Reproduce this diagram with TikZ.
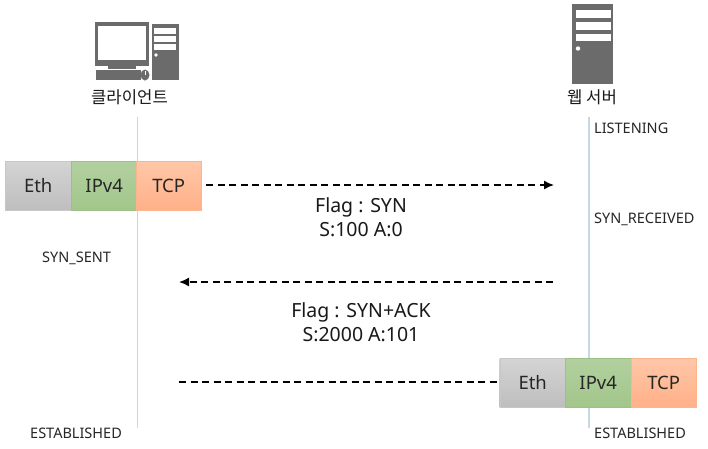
\documentclass[tikz,border=0pt]{standalone}
\usepackage{fontspec}
\setmainfont{Noto Sans}
\newfontfamily\krfont{Noto Sans CJK KR}
\usetikzlibrary{arrows.meta}
\definecolor{icongray}{HTML}{6B6B6B}
\definecolor{lifeline}{HTML}{C5D9E4}
\definecolor{ethtop}{HTML}{D4D4D4}
\definecolor{ethbot}{HTML}{BEBEBE}
\definecolor{iptop}{HTML}{B2D09F}
\definecolor{ipbot}{HTML}{A2C68B}
\definecolor{ipline}{HTML}{9CC088}
\definecolor{tcptop}{HTML}{FFC7A8}
\definecolor{tcpbot}{HTML}{FFB088}
\definecolor{tcpline}{HTML}{FBB58E}
\tikzset{
  x=1pt,y=-1pt,
  cell/.style={minimum height=49pt,inner sep=0pt,font=\fontsize{18.5}{20}\selectfont,text=black!85,anchor=north west},
  ethcell/.style={cell,minimum width=66pt,top color=ethtop,bottom color=ethbot,draw=black!22},
  ipcell/.style={cell,minimum width=66pt,top color=iptop,bottom color=ipbot,draw=ipline},
  tcpcell/.style={cell,minimum width=65pt,top color=tcptop,bottom color=tcpbot,draw=tcpline},
  state/.style={inner sep=0pt,font=\fontsize{14.5}{16}\selectfont,text=black!85},
  msg/.style={inner sep=0pt,align=center,font=\fontsize{19.5}{24}\selectfont,text=black!90},
  hostlabel/.style={inner sep=0pt,font=\krfont\fontsize{16.7}{18}\selectfont,text=black!90},
  life/.style={draw=lifeline,line width=1.2pt},
  flow/.style={draw=black,line width=1.5pt,dash pattern=on 7pt off 4.5pt},
  flowtip/.style={flow,-{Latex[length=10pt,width=9pt]}},
  iconfill/.style={fill=icongray,draw=none}
}
\begin{document}
\begin{tikzpicture}
\useasboundingbox (0,0) rectangle (708,448);
\fill[white] (0,0) rectangle (708,448);

% lifelines
\coordinate (cltop) at (137.5,117);
\coordinate (clbot) at (137.5,428);
\coordinate (srvtop) at (589,117);
\coordinate (srvbot) at (589,428);
\draw[life] (cltop) -- (clbot);
\draw[life] (srvtop) -- (srvbot);

% client icon
\fill[iconfill] (95,22) rectangle (149,66);
\fill[white] (98,25.5) rectangle (146,60);
\fill[iconfill] (119,66) rectangle (126,67.5);
\fill[iconfill] (108,65) rectangle (136,69);
\fill[iconfill] (96,70) rectangle (141,80);
\fill[iconfill] (145,75) ellipse (4.5 and 5.5);
\fill[white] (144.6,71) rectangle (145.4,75);
\fill[iconfill] (152,24) rectangle (179,80);
\fill[white] (154,28) rectangle (176,33.5);
\fill[white] (154,36) rectangle (176,41.5);
\fill[white] (154,44) rectangle (176,49.5);
\fill[white] (156,55) circle (1.8);
\node[hostlabel] (client) at (129.5,97) {클라이언트};

% server icon
\fill[iconfill] (572,4) rectangle (613,84);
\fill[white] (575.5,10) rectangle (610.5,17.5);
\fill[white] (575.5,22) rectangle (610.5,29.5);
\fill[white] (575.5,33.5) rectangle (610.5,41);
\fill[white] (578,48.5) circle (2.2);
\node[hostlabel] (server) at (592,97) {웹 서버};

% packet, client side
\node[ethcell] (eth1) at (5,161) {Eth};
\node[ipcell]  (ip1)  at (71,161) {IPv4};
\node[tcpcell] (tcp1) at (136,161) {TCP};

% packet, server side
\node[ethcell] (eth2) at (499.5,358) {Eth};
\node[ipcell]  (ip2)  at (565,358) {IPv4};
\node[tcpcell] (tcp2) at (631,358) {TCP};

% states
\node[state,anchor=west] (listening) at (594,128) {LISTENING};
\node[state,anchor=west] (synrecv) at (594,219) {SYN\_RECEIVED};
\node[state,anchor=west] (synsent) at (42,258) {SYN\_SENT};
\node[state,anchor=west] (estc) at (30,433) {ESTABLISHED};
\node[state,anchor=west] (ests) at (594,433) {ESTABLISHED};

% messages
\node[msg] (m1) at (361,217) {Flag : SYN\\S:100 A:0};
\node[msg] (m2) at (361,322) {Flag : SYN+ACK\\S:2000 A:101};

% arrows
\coordinate (a1e) at (554,185);
\coordinate (a2s) at (553,282);
\coordinate (a2e) at (179,282);
\coordinate (a3s) at (179,382);
\draw[flowtip] (tcp1.east |- a1e) ++(5,0) coordinate (a1s) -- (a1e);
\draw[flowtip] (a2s) -- (a2e);
\draw[flow] (a3s) -- (eth2.west |- a3s);
\end{tikzpicture}
\end{document}
